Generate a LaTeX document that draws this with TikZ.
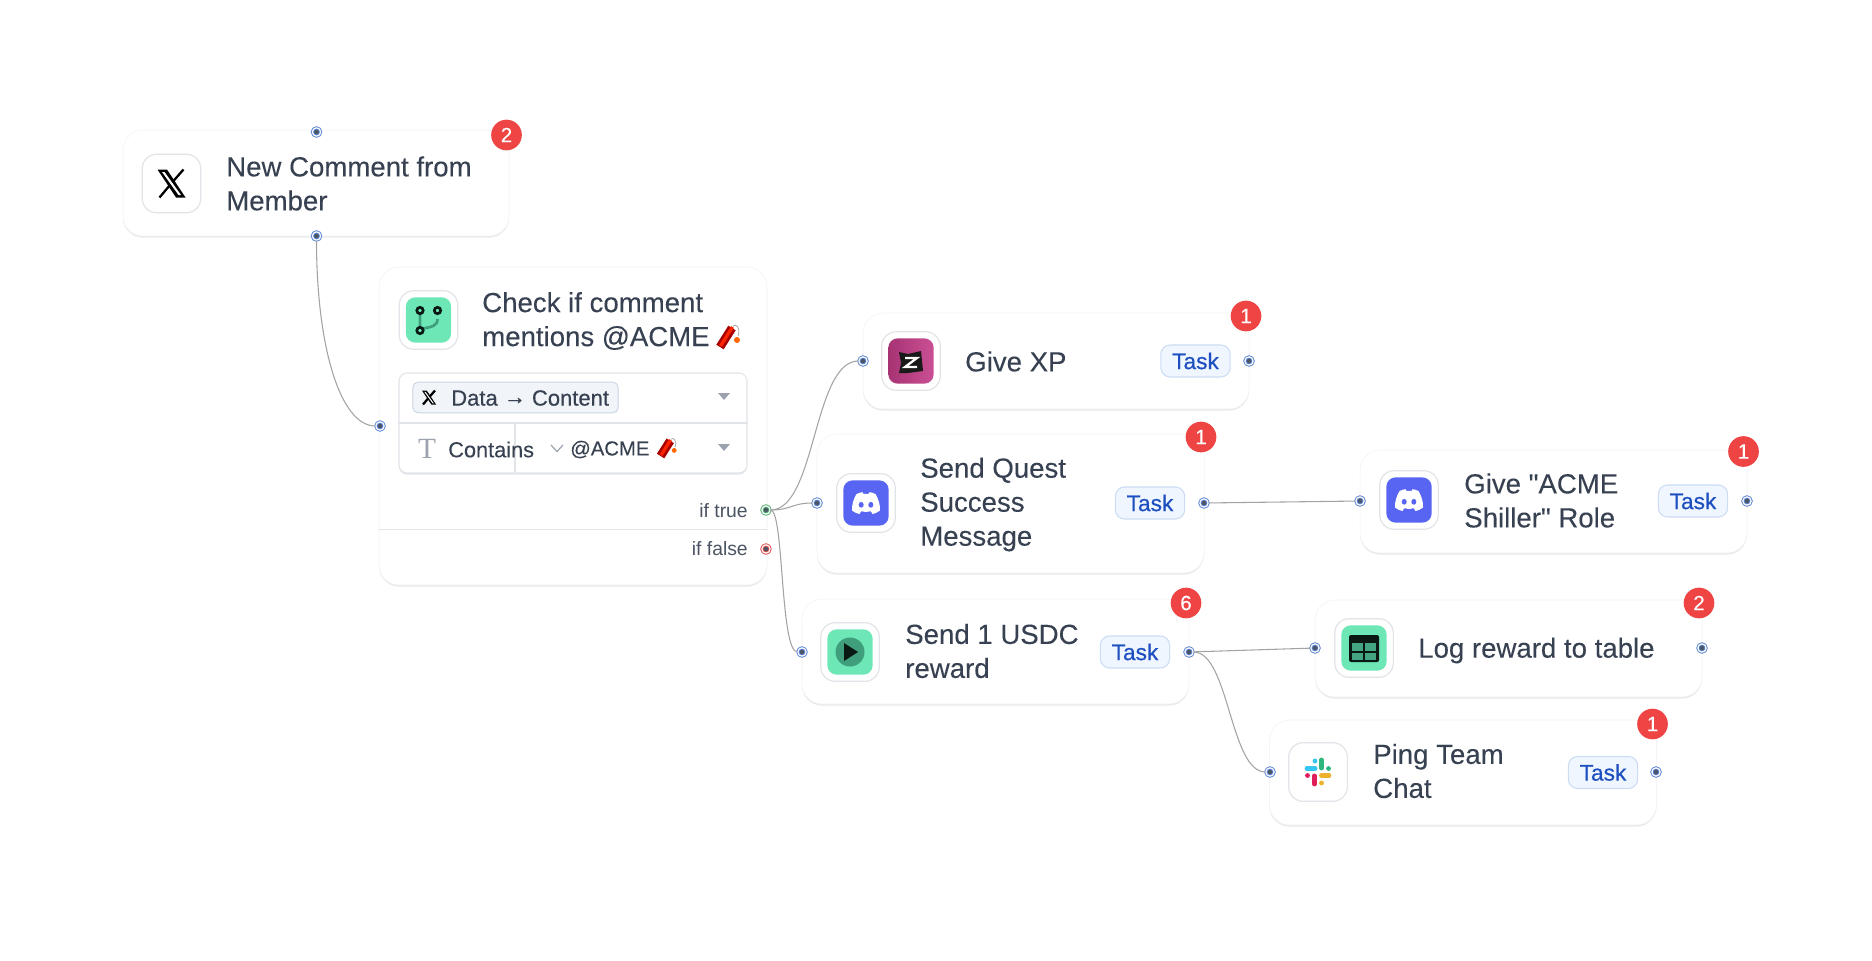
\documentclass[tikz,border=0pt]{standalone}
\usepackage{fontspec}
\setmainfont{Liberation Sans}
\newfontfamily\titlefont[FakeBold=0.12]{Liberation Sans}
\newfontfamily\medfont[FakeBold=0.5]{Liberation Sans}
\newfontfamily\serifT{Liberation Serif}
\usetikzlibrary{shadows}
\definecolor{inktext}{HTML}{374151}
\definecolor{cardline}{HTML}{F1F2F4}
\definecolor{boxline}{HTML}{E1E4E8}
\definecolor{mintbg}{HTML}{6EE7B7}
\definecolor{mintdark}{HTML}{3F9E7C}
\definecolor{discordbg}{HTML}{5865F2}
\definecolor{zealybg}{HTML}{C43C88}
\definecolor{badgered}{HTML}{EF4444}
\definecolor{pillfill}{HTML}{EFF6FF}
\definecolor{pillline}{HTML}{CBDCF3}
\definecolor{pilltext}{HTML}{1E4FC0}
\definecolor{wire}{HTML}{A3A3A3}
\definecolor{hndblue}{HTML}{5B83D3}
\definecolor{hndgreen}{HTML}{4FAF6F}
\definecolor{hndred}{HTML}{DC4B4B}
\definecolor{hnddot}{HTML}{4B5563}
\definecolor{chipfill}{HTML}{F1F5F9}
\definecolor{chipline}{HTML}{CBD5E1}
\definecolor{caretgray}{HTML}{9CA3AF}
\tikzset{
  cardbox/.style 2 args={draw=cardline,fill=white,rounded corners=15pt,inner sep=0pt,
    minimum width=#1*0.75pt,minimum height=#2*0.75pt,
    drop shadow={shadow xshift=0pt,shadow yshift=-1.2pt,opacity=1,fill=boxline!80}},
  iconbox/.style={draw=boxline,line width=0.9pt,fill=white,rounded corners=11pt,inner sep=0pt,minimum size=44pt},
  iconbg/.style={rounded corners=7pt,inner sep=0pt,minimum size=34pt},
  title/.style={anchor=west,align=left,inner sep=0pt,text=inktext,font=\fontsize{20.7}{25.5}\selectfont\titlefont},
  badge/.style={circle,fill=badgered,text=white,inner sep=0pt,minimum size=23pt,font=\fontsize{15.5}{15.5}\selectfont\titlefont},
  taskpill/.style={draw=pillline,line width=0.8pt,fill=pillfill,text=pilltext,rounded corners=7pt,inner sep=0pt,
    minimum width=52pt,minimum height=24pt,font=\fontsize{17}{17}\selectfont\medfont},
  hnd/.style={circle,inner sep=0pt,minimum size=6.2pt,fill=hnddot,draw=#1,line width=0.7pt,double=white,double distance=0.9pt},
  hnd/.default=hndblue,
  wireline/.style={draw=wire,line width=0.8pt},
  rowtext/.style={anchor=west,inner sep=0pt,text=inktext,font=\fontsize{16.3}{16.3}\selectfont\titlefont},
  iftext/.style={anchor=east,inner sep=0pt,text=inktext!90,font=\fontsize{14.5}{14.5}\selectfont},
  caret/.style={fill=caretgray},
  xlogo/.pic={
    \fill[black] (-14,-14) -- (-4.5,-14) -- (14,14) -- (4.5,14) -- cycle;
    \fill[white] (-9.5,-11.5) -- (-7,-11.5) -- (9.5,11.5) -- (7,11.5) -- cycle;
    \draw[black,line width=1.7pt] (12,-14) -- (1.5,-2) (-1.5,1.5) -- (-12,14);
  },
  discord/.pic={
    \fill[white] (-9.5,-9) .. controls (-6.5,-10.3) and (-4.5,-10.8) .. (-3.5,-10.8) -- (-2.6,-9)
      .. controls (-1,-9.3) and (1,-9.3) .. (2.6,-9) -- (3.5,-10.8) .. controls (4.5,-10.8) and (6.5,-10.3) .. (9.5,-9)
      .. controls (12.5,-4) and (14.3,2) .. (14,7.5) .. controls (11.5,9.5) and (9,10.6) .. (6.5,11) -- (4.8,8.2)
      .. controls (1.5,9.3) and (-1.5,9.3) .. (-4.8,8.2) -- (-6.5,11) .. controls (-9,10.6) and (-11.5,9.5) .. (-14,7.5)
      .. controls (-14.3,2) and (-12.5,-4) .. (-9.5,-9) -- cycle;
    \fill[discordbg] (-4.8,1.8) ellipse [x radius=2.5,y radius=2.9];
    \fill[discordbg] (4.8,1.8) ellipse [x radius=2.5,y radius=2.9];
  },
  dynamite/.pic={
    \draw[gray!80,line width=0.5pt] (5,-11) .. controls (8,-14) and (13,-9) .. (10,-1);
    \fill[orange!80!red] (9,3) circle (3);
    \draw[red!65!black,line width=6.5pt] (-8,10) -- (4,-9);
    \draw[red!72!orange,line width=2.5pt] (-7.5,9) -- (4.5,-10);
  }
}
\begin{document}
\begin{tikzpicture}[x=0.75pt,y=-0.75pt]
\useasboundingbox (0,0) rectangle (1872,960);
\node[cardbox={386}{106}] (commentcard) at (316,183) {};
\node[cardbox={388}{318}] (checkcard) at (573,426) {};
\node[cardbox={386}{96}] (xpcard) at (1056,361) {};
\node[cardbox={387}{139}] (questcard) at (1010.5,503.5) {};
\node[cardbox={387}{105}] (usdccard) at (995.5,651.5) {};
\node[cardbox={387}{103}] (rolecard) at (1553.5,501.5) {};
\node[cardbox={387}{97}] (logcard) at (1508.5,648.5) {};
\node[cardbox={387}{105}] (pingcard) at (1463,772.5) {};
\draw[boxline,line width=0.7pt] (checkcard.west |- 0,529) -- (checkcard.east |- 0,529);
\node[iconbox] (xicon) at (171.5,183.5) {};
\pic at (171.5,183.5) {xlogo};
\node[iconbox] (checkicon) at (428.5,320) {};
\node[iconbg,fill=mintbg] (checkbg) at (428.5,320) {};
\draw[mintdark,line width=2pt] (420,312) -- (420,331) (437.5,319) .. controls (437.5,326) and (432,327) .. (420,329);
\foreach \bx/\by in {420/310.5,437.5/310.5,420/330.5}
  \draw[black!85!mintdark,fill=mintbg,line width=2pt] (\bx,\by) circle (3.2);
\node[iconbox] (xpicon) at (911,361) {};
\node[iconbg,left color=zealybg!85!black,right color=zealybg!90!white] (xpbg) at (911,361) {};
\fill[black!90] (899,352) -- (908,354) -- (921,351) -- (923,371) -- (908,373) -- (899,373) -- (901,363) -- cycle;
\draw[white,line width=1.7pt,line join=miter] (905,358) -- (917,358) -- (905,367) -- (917,367);
\node[iconbox] (questicon) at (866,503) {};
\node[iconbg,fill=discordbg] (questbg) at (866,503) {};
\pic at (866,503) {discord};
\node[iconbox] (usdcicon) at (850,652) {};
\node[iconbg,fill=mintbg] (usdcbg) at (850,652) {};
\fill[mintdark] (850,652) circle (14.5);
\fill[black!85!mintdark] (844,643) -- (858,652) -- (844,661) -- cycle;
\node[iconbox] (roleicon) at (1409,500) {};
\node[iconbg,fill=discordbg] (rolebg) at (1409,500) {};
\pic at (1409,500) {discord};
\node[iconbox] (logicon) at (1364,648) {};
\node[iconbg,fill=mintbg] (logbg) at (1364,648) {};
\fill[black!85!mintdark,rounded corners=1.5pt] (1349,635) rectangle (1379,662);
\foreach \cx/\cy in {1352/643,1365/643,1352/652.5,1365/652.5}
  \fill[mintdark!90!mintbg] (\cx,\cy) rectangle +(11,7.5);
\node[iconbox] (pingicon) at (1318,772) {};
\draw[line cap=round,line width=3.6pt,color={rgb,255:red,54;green,197;blue,240}] (1307,768.5) -- (1315,768.5) (1315,761) -- (1315,761);
\draw[line cap=round,line width=3.6pt,color={rgb,255:red,46;green,182;blue,125}] (1321.5,760) -- (1321.5,768) (1328.5,768.5) -- (1328.5,768.5);
\draw[line cap=round,line width=3.6pt,color={rgb,255:red,236;green,178;blue,46}] (1321.5,775.5) -- (1329,775.5) (1321.5,783) -- (1321.5,783);
\draw[line cap=round,line width=3.6pt,color={rgb,255:red,224;green,30;blue,90}] (1314.5,776) -- (1314.5,784) (1307.5,775.5) -- (1307.5,775.5);
\node[title] (commenttext) at (226,183.5) {New Comment from\\Member};
\node[title] (checktext) at (482,321) {Check if comment\\mentions @ACME};
\pic at (728,337) {dynamite};
\node[title] (xptext) at (965,361.5) {Give XP};
\node[title] (questtext) at (920,504.5) {Send Quest\\Success\\Message};
\node[title] (usdctext) at (905,651) {Send 1 USDC\\reward};
\node[title] (roletext) at (1464,500.5) {Give "ACME\\Shiller" Role};
\node[title] (logtext) at (1418,650.5) {Log reward to table};
\node[title] (pingtext) at (1373,771) {Ping Team\\Chat};
\node[draw=boxline,line width=0.8pt,fill=white,rounded corners=6pt,inner sep=0pt,minimum width=261pt,minimum height=75pt,
  drop shadow={shadow xshift=0pt,shadow yshift=-1.2pt,opacity=1,fill=boxline}] (formbox) at (573,423) {};
\draw[boxline,line width=1.1pt] (formbox.west) -- (formbox.east);
\draw[boxline,line width=1.1pt] (515,423) -- (515,473);
\node[draw=chipline,line width=0.7pt,fill=chipfill,rounded corners=4pt,inner sep=0pt,minimum width=154pt,minimum height=23pt] (datachip) at (515.5,397.5) {};
\pic[scale=0.5] at (429,397.5) {xlogo};
\node[rowtext,font=\fontsize{16.5}{16.5}\selectfont\medfont] (datatext) at (451,398) {Data \raisebox{1pt}{→} Content};
\node[text=caretgray,inner sep=0pt,font=\fontsize{22}{22}\selectfont\serifT] (typemark) at (427,449) {T};
\node[rowtext] (containstext) at (448,449.5) {Contains};
\draw[caretgray,line width=0.9pt] (551,445) -- (557,451.5) -- (563,445);
\node[rowtext,font=\fontsize{15.2}{15.2}\selectfont\titlefont] (acmetext) at (570,449.5) {@ACME};
\pic[scale=0.8] at (667,448) {dynamite};
\fill[caret] (718,393) -- (730,393) -- (724,400) -- cycle;
\fill[caret] (718,444) -- (730,444) -- (724,451) -- cycle;
\node[iftext] (truetext) at (748,511) {if true};
\node[iftext] (falsetext) at (748,549) {if false};
\node[taskpill] (xptask) at (1195.5,361) {Task};
\node[taskpill] (questtask) at (1150,503) {Task};
\node[taskpill] (usdctask) at (1135,652) {Task};
\node[taskpill] (roletask) at (1693,501) {Task};
\node[taskpill] (pingtask) at (1603,772.5) {Task};
\node[badge] (commentbadge) at (506.5,135) {2};
\node[badge] (xpbadge) at (1246,316) {1};
\node[badge] (questbadge) at (1201,437) {1};
\node[badge] (usdcbadge) at (1186,603) {6};
\node[badge] (rolebadge) at (1743.5,451.5) {1};
\node[badge] (logbadge) at (1699,603) {2};
\node[badge] (pingbadge) at (1652.5,724) {1};
\node[hnd] (commenttop) at (316.5,132) {};
\node[hnd] (commentout) at (316.5,236) {};
\node[hnd] (checkin) at (380,426) {};
\node[hnd=hndgreen] (trueout) at (766,510) {};
\node[hnd=hndred] (falseout) at (766,549) {};
\node[hnd] (xpin) at (863,361) {};
\node[hnd] (xpout) at (1249,361) {};
\node[hnd] (questin) at (817,503) {};
\node[hnd] (questout) at (1204,503) {};
\node[hnd] (usdcin) at (802,652) {};
\node[hnd] (usdcout) at (1189,652) {};
\node[hnd] (rolein) at (1360,501) {};
\node[hnd] (roleout) at (1747,501) {};
\node[hnd] (login) at (1315,648) {};
\node[hnd] (logout) at (1702,648) {};
\node[hnd] (pingin) at (1270,772) {};
\node[hnd] (pingout) at (1656,772) {};
\draw[wireline] (commentout) .. controls +(0,110) and +(-40,0) .. (checkin);
\draw[wireline] (trueout) .. controls +(50,0) and +(-50,0) .. (xpin);
\draw[wireline] (trueout) .. controls +(25,0) and +(-25,0) .. (questin);
\draw[wireline] (trueout) .. controls +(18,0) and +(-22,0) .. (usdcin);
\draw[wireline] (questout) -- (rolein);
\draw[wireline] (usdcout) -- (login);
\draw[wireline] (usdcout) .. controls +(40,0) and +(-40,0) .. (pingin);
\end{tikzpicture}
\end{document}
